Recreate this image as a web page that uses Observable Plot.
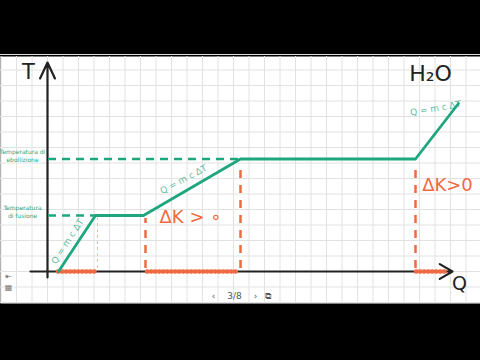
<!DOCTYPE html>
<html><head><meta charset="utf-8">
<script src="https://cdn.jsdelivr.net/npm/d3@7"></script>
<script src="https://cdn.jsdelivr.net/npm/@observablehq/plot@0.6"></script>
<style>html,body{margin:0;padding:0;background:#000;overflow:hidden;}</style>
</head><body><div id="chart"></div>
<script>
// Heating curve of water (Q = heat, T = temperature), arbitrary units
const curveQ = [1.1, 4.8, 9.6, 19.3, 36.8, 41.1];
const curveT = [0, 5.6, 5.6, 11.25, 11.25, 16.8];
const levelT = [5.6, 11.25];
const levelQEnd = [4.8, 19.3];
const levelLabels = ["Temperatura\ndi fusione", "Temperatura di\nebollizione"];
const dropQ = [9.8, 19.3, 36.8];
const dropTop = [5.3, 10.6, 10.6];
const squiggleStart = [1.1, 10.0, 36.9];
const squiggleEnd = [4.8, 19.1, 39.8];
const formulaQ = [2.0, 13.6, 38.8];
const formulaT = [3.0, 9.2, 16.3];
const formulaRot = [-57, -28, -10];
const deltaQ = [14.3, 40.0];
const deltaT = [5.4, 8.6];
const deltaLabels = ["ΔK > ∘", "ΔK>0"];
const navLabels = ["‹", "3/8", "›", "⧉"];
const navQ = [16.6, 18.7, 20.8, 22.0];

const green = "#1ea67e", orange = "#ef6a43";
const curve = curveQ.map((q, i) => ({Q: q, T: curveT[i]}));
const levels = levelT.map((t, i) => ({T: t, Q2: levelQEnd[i], label: levelLabels[i]}));
const drops = dropQ.map((q, i) => ({Q: q, T2: dropTop[i]}));
const squiggles = squiggleStart.map((q, i) => ({Q1: q, Q2: squiggleEnd[i]}));
const formulas = formulaQ.map((q, i) => ({Q: q, T: formulaT[i], r: formulaRot[i]}));
const deltas = deltaQ.map((q, i) => ({Q: q, T: deltaT[i], label: deltaLabels[i]}));
const nav = navLabels.map((s, i) => ({Q: navQ[i], label: s}));
const gridQ = d3.range(-3, 29).map(k => k * 1.55);
const gridT = d3.range(-2, 15).map(k => k * 1.55);

const font = "DejaVu Sans";
const chart = Plot.plot({
  width: 480, height: 360,
  marginTop: 56, marginBottom: 57, marginLeft: 0, marginRight: 0,
  style: {background: "black", fontFamily: font},
  x: {domain: [-4.7, 43.3], axis: null},
  y: {domain: [-3.2, 21.5], axis: null},
  marks: [
    Plot.frame({fill: "white", stroke: "none"}),
    Plot.ruleX(gridQ, {stroke: "#e2e2e2", strokeWidth: 1}),
    Plot.ruleY(gridT, {stroke: "#e2e2e2", strokeWidth: 1}),
    // axes
    Plot.arrow([0], {x1: 0, y1: -0.6, x2: 0, y2: 20.9, stroke: "#222", strokeWidth: 2.2, headLength: 12, headAngle: 50}),
    Plot.arrow([0], {x1: -1.7, y1: 0, x2: 40.5, y2: 0, stroke: "#222", strokeWidth: 2.2, headLength: 10, headAngle: 60}),
    Plot.text(["T"], {x: -1.9, y: 19.9, text: d => d, fontSize: 21, fill: "#222"}),
    Plot.text(["Q"], {x: 41.2, y: -1.2, text: d => d, fontSize: 19, fill: "#222"}),
    Plot.text(["H₂O"], {x: 38.3, y: 19.8, text: d => d, fontSize: 22, fill: "#222"}),
    // dashed levels
    Plot.ruleY(levels, {y: "T", x1: 0.1, x2: "Q2", stroke: green, strokeWidth: 2.5, strokeDasharray: "8 6"}),
    Plot.text(levels, {x: -2.5, y: "T", text: "label", fontSize: 6, fill: green, lineHeight: 1.4, dy: -4}),
    // faint guide
    Plot.ruleX([5.0], {y1: 0.3, y2: 5.3, stroke: "#f5b9ae", strokeWidth: 1, strokeDasharray: "3 3"}),
    // orange dashed drops
    Plot.ruleX(drops, {x: "Q", y1: 0.3, y2: "T2", stroke: orange, strokeWidth: 2.5, strokeDasharray: "8 7"}),
    Plot.ruleY(squiggles, {y: 0, x1: "Q1", x2: "Q2", stroke: orange, strokeWidth: 4.5, strokeDasharray: "0.5 3.5", strokeLinecap: "round"}),
    Plot.ruleY(squiggles, {y: 0, x1: "Q1", x2: "Q2", stroke: orange, strokeWidth: 1.5}),
    // heating curve
    Plot.line(curve, {x: "Q", y: "T", stroke: green, strokeWidth: 2.8, strokeLinejoin: "round"}),
    Plot.text(formulas, {x: "Q", y: "T", rotate: "r", text: () => "Q = m c ΔT", fontSize: 9, fill: green, fillOpacity: 0.75}),
    Plot.text(deltas, {x: "Q", y: "T", text: "label", fontSize: 18, fill: orange}),
    // UI chrome
    Plot.text(["⇤"], {x: -3.9, y: -0.5, text: d => d, fontSize: 8, fill: "#666"}),
    Plot.text(["▦"], {x: -3.9, y: -1.6, text: d => d, fontSize: 8, fill: "#777"}),
    Plot.text(nav, {x: "Q", y: -2.5, text: "label", fontSize: 9, fill: "#555"})
  ]
});
document.getElementById("chart").appendChild(chart);
</script></body></html>
